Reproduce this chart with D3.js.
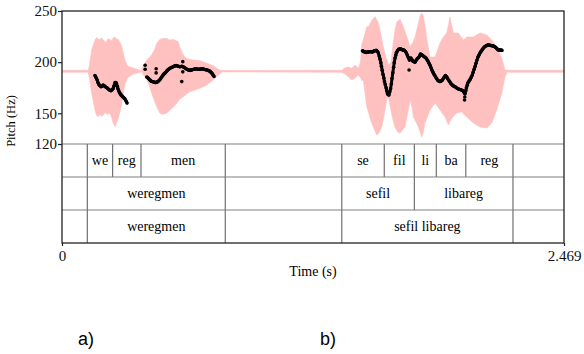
<!DOCTYPE html>
<html>
<head>
<meta charset="utf-8">
<script src="https://cdn.jsdelivr.net/npm/d3@7"></script>
<style>
  body { margin: 0; background: #fff; }
  svg { display: block; }
</style>
</head>
<body>
<svg id="chart" width="584" height="354"></svg>
<script>
// ---- data ----
const duration = 2.469;
const yTicks = [120, 150, 200, 250];
const xTicks = [0, 2.469];
const xTickLabels = ['0', '2.469'];

// waveform envelope (drawn in pitch units, centred on ~191 Hz)
const waveTop = [
  [0, 192.1], [0.128, 192.1], [0.134, 195.8], [0.146, 211.9], [0.162, 221.7], [0.170, 224], [0.179, 222.4],
  [0.187, 222.4], [0.195, 223.5], [0.203, 222], [0.212, 219.5], [0.220, 220.4], [0.228, 223], [0.236, 222],
  [0.244, 221], [0.252, 223.6], [0.261, 224.6], [0.269, 222], [0.277, 222.4], [0.286, 219], [0.294, 215.2],
  [0.302, 208], [0.310, 202.1], [0.318, 198], [0.326, 195.8], [0.351, 194.2], [0.375, 192.6], [0.392, 191.6],
  [0.400, 197.2], [0.417, 202.1], [0.441, 207], [0.455, 212], [0.466, 218.4], [0.482, 222.4], [0.498, 223],
  [0.515, 223.3], [0.531, 221.5], [0.547, 222.4], [0.560, 221], [0.572, 220], [0.580, 214], [0.589, 210.2],
  [0.600, 206], [0.613, 203.7], [0.630, 202.5], [0.646, 202.1], [0.663, 201.8], [0.679, 201.4], [0.712, 199],
  [0.744, 196.4], [0.769, 193], [0.786, 191.8],
  [1.376, 192.1], [1.392, 194.6], [1.408, 195.3], [1.425, 194], [1.441, 197.2], [1.457, 194], [1.468, 200],
  [1.474, 216.8], [1.482, 221.7], [1.499, 234.7], [1.507, 234.7], [1.525, 241.2], [1.540, 244.4], [1.554, 239.2],
  [1.564, 231.4], [1.580, 215.1], [1.594, 204.1], [1.606, 197.2], [1.618, 200.2], [1.628, 216.8], [1.638, 231.4],
  [1.646, 239.2], [1.663, 241.9], [1.679, 234.7], [1.696, 224.9], [1.712, 214.8], [1.727, 219.7], [1.736, 224.6],
  [1.751, 236.3], [1.761, 245.1], [1.769, 248], [1.776, 246.1], [1.785, 236.3], [1.795, 221.7], [1.810, 205],
  [1.835, 205], [1.859, 218.7], [1.879, 225.6], [1.892, 228.5], [1.901, 236.3], [1.908, 244.1], [1.916, 236.3],
  [1.925, 228.5], [1.949, 228.5], [1.974, 221.7], [1.991, 224.6], [2.023, 224.6], [2.056, 228.5], [2.089, 226.5],
  [2.114, 221.7], [2.138, 214.8], [2.163, 204.1], [2.179, 192.3], [2.189, 192.1], [2.469, 192.1]
];
const waveBottom = [
  [0, 190.2], [0.128, 190.2], [0.134, 185.5], [0.146, 169.6], [0.162, 153.2], [0.170, 148], [0.179, 146.7],
  [0.187, 149], [0.195, 147], [0.203, 148.3], [0.212, 151], [0.220, 149], [0.236, 150], [0.244, 146],
  [0.252, 140.2], [0.261, 136.9], [0.269, 141], [0.277, 145.1], [0.286, 152], [0.294, 159.8], [0.302, 170],
  [0.310, 179.3], [0.326, 185.5], [0.351, 188.4], [0.375, 189.7], [0.392, 190.6],
  [0.400, 187.4], [0.417, 182.6], [0.430, 177], [0.441, 169.6], [0.455, 162], [0.466, 156.5], [0.482, 150],
  [0.498, 149], [0.515, 150], [0.531, 153.2], [0.547, 156], [0.564, 159.8], [0.580, 164], [0.597, 166.2],
  [0.613, 169], [0.630, 171.1], [0.663, 173.5], [0.679, 174.4], [0.712, 177.7], [0.744, 182.6], [0.769, 187.4],
  [0.786, 190.4],
  [1.376, 190.2], [1.392, 188.4], [1.408, 185.8], [1.425, 182.6], [1.441, 184.2], [1.457, 187.4], [1.468, 185],
  [1.474, 182], [1.482, 182.6], [1.499, 156.5], [1.523, 140.5], [1.548, 128.8], [1.559, 130.8], [1.573, 136.9],
  [1.589, 153.2], [1.599, 165.9], [1.608, 163], [1.618, 153.2], [1.628, 143.5], [1.638, 136.6], [1.650, 131.7],
  [1.663, 130.8], [1.679, 134.7], [1.687, 136.6], [1.703, 153.2], [1.712, 163], [1.722, 155.2], [1.728, 146.4],
  [1.741, 141.5], [1.753, 136.6], [1.761, 131.7], [1.769, 126.8], [1.776, 130.8], [1.785, 140.5], [1.810, 153.2],
  [1.835, 160.1], [1.859, 153.2], [1.884, 146.4], [1.900, 138.6], [1.917, 145.4], [1.941, 150.3], [1.966, 151.3],
  [1.991, 146.4], [2.023, 140.5], [2.056, 136.6], [2.089, 135.6], [2.114, 140.5], [2.138, 153.2], [2.163, 169.9],
  [2.179, 185.5], [2.189, 190.2], [2.469, 190.2]
];

// pitch track (s, Hz)
const pitchWe = [
  [0.162, 187], [0.167, 185], [0.172, 183], [0.177, 180], [0.182, 178], [0.187, 177], [0.192, 176],
  [0.197, 176.5], [0.202, 177.5], [0.207, 177], [0.211, 176.5], [0.216, 175.5], [0.221, 175], [0.226, 174],
  [0.231, 173], [0.236, 172.5], [0.241, 172], [0.246, 173], [0.251, 174], [0.256, 177], [0.261, 180],
  [0.265, 180], [0.268, 179], [0.272, 176.5], [0.275, 174], [0.279, 172], [0.283, 170], [0.287, 169],
  [0.290, 168], [0.295, 167], [0.300, 166], [0.305, 165], [0.310, 164], [0.315, 162], [0.320, 160]
];
const pitchMen = [
  [0.417, 185.5], [0.421, 185], [0.426, 184], [0.430, 183], [0.433, 182.5], [0.438, 181.5], [0.443, 181],
  [0.448, 180.8], [0.453, 180.5], [0.457, 180.2], [0.462, 180], [0.467, 180.5], [0.472, 181], [0.477, 182],
  [0.482, 183], [0.487, 184.5], [0.492, 186], [0.497, 187.3], [0.502, 188.5], [0.507, 189.5], [0.512, 190.5],
  [0.516, 191.5], [0.521, 192.5], [0.526, 193.3], [0.531, 194], [0.536, 194.5], [0.541, 195], [0.546, 195.5],
  [0.551, 196], [0.556, 196.4], [0.561, 196.8], [0.566, 196.4], [0.571, 196], [0.576, 195.8], [0.580, 195.5],
  [0.585, 195.8], [0.590, 196], [0.595, 195.5], [0.600, 195], [0.605, 194.3], [0.610, 193.5], [0.615, 193],
  [0.620, 192.5], [0.625, 192.2], [0.630, 192], [0.635, 192.2], [0.639, 192.5], [0.644, 192.8], [0.649, 193],
  [0.654, 193.3], [0.659, 193.5], [0.664, 193.3], [0.669, 193], [0.674, 193], [0.679, 193], [0.684, 193.3],
  [0.689, 193.5], [0.694, 193.3], [0.698, 193], [0.703, 192.8], [0.708, 192.5], [0.713, 192.3], [0.718, 192],
  [0.723, 191.5], [0.728, 191], [0.733, 190], [0.738, 189], [0.743, 187.5], [0.748, 186]
];
const pitchSefil = [
  [1.478, 211], [1.483, 210.5], [1.488, 210], [1.493, 209.8], [1.497, 209.5], [1.502, 209.8], [1.507, 210],
  [1.512, 210.1], [1.517, 210.2], [1.522, 210.1], [1.527, 210], [1.532, 210.5], [1.536, 211], [1.541, 211.3],
  [1.546, 211.5], [1.551, 210.5], [1.556, 209], [1.560, 206], [1.564, 203], [1.568, 199.5], [1.571, 196],
  [1.575, 192], [1.579, 188], [1.583, 184.5], [1.586, 181], [1.590, 178], [1.594, 175], [1.597, 172],
  [1.601, 169], [1.605, 168.2], [1.608, 168], [1.612, 171], [1.616, 174], [1.620, 179], [1.623, 184],
  [1.627, 189.5], [1.631, 195], [1.634, 199.5], [1.638, 204], [1.642, 207], [1.645, 209.5], [1.650, 211],
  [1.655, 212.5], [1.660, 212.8], [1.665, 213], [1.670, 212.5], [1.675, 212], [1.680, 211.8], [1.684, 211.5],
  [1.689, 210.3], [1.694, 209], [1.698, 207], [1.702, 205], [1.706, 203.5], [1.709, 202], [1.713, 203],
  [1.716, 204], [1.721, 202.5], [1.726, 201], [1.731, 200.5], [1.736, 200], [1.741, 201.5], [1.746, 203],
  [1.751, 204], [1.756, 205], [1.760, 206.5], [1.763, 208], [1.767, 207.5], [1.771, 207], [1.776, 206.2],
  [1.780, 205.5], [1.785, 204.8], [1.790, 204], [1.795, 202.5], [1.800, 201], [1.805, 199], [1.810, 197],
  [1.815, 194.5], [1.820, 192], [1.825, 190], [1.830, 188], [1.835, 186.5], [1.839, 185], [1.844, 183.5],
  [1.849, 182], [1.854, 181.5], [1.859, 181], [1.864, 181.5], [1.869, 182], [1.874, 183.5], [1.879, 185],
  [1.883, 186], [1.886, 187], [1.890, 186], [1.894, 185], [1.898, 183.5], [1.903, 182], [1.908, 180.5],
  [1.913, 179], [1.918, 178], [1.923, 177], [1.928, 176.5], [1.933, 176], [1.938, 175.2], [1.943, 174.5],
  [1.948, 174], [1.952, 173.5], [1.957, 173.2], [1.962, 173], [1.967, 172.5], [1.972, 172], [1.977, 170.5],
  [1.982, 169], [1.986, 172], [1.989, 175], [1.993, 177.5], [1.997, 180], [2.002, 181.5], [2.007, 183],
  [2.012, 185], [2.017, 187], [2.022, 190], [2.027, 193], [2.032, 196], [2.036, 199], [2.041, 202],
  [2.046, 205], [2.051, 207], [2.056, 209], [2.061, 210.5], [2.066, 212], [2.071, 213.3], [2.076, 214.5],
  [2.081, 215.3], [2.086, 216], [2.091, 216.4], [2.095, 216.7], [2.100, 216.6], [2.105, 216.5], [2.110, 216.2],
  [2.115, 216], [2.120, 215.8], [2.125, 215.5], [2.130, 214.8], [2.135, 214], [2.140, 213], [2.145, 212],
  [2.150, 212], [2.154, 212], [2.159, 211.8], [2.164, 211.5]
];
const pitchStray = [
  [0.409, 197], [0.409, 193], [0.463, 193.5], [0.463, 189.5], [0.594, 200.5], [0.594, 190.5], [0.589, 181],
  [1.707, 192.3], [1.980, 163], [1.981, 166]
];

// annotation tiers
const syllables = ['we', 'reg', 'men', 'se', 'fil', 'li', 'ba', 'reg'];
const syllableStart = [0.1245, 0.249, 0.3886, 1.376, 1.585, 1.733, 1.841, 1.986];
const syllableEnd = [0.249, 0.3886, 0.803, 1.585, 1.733, 1.841, 1.986, 2.218];
const words = ['weregmen', 'sefil', 'libareg'];
const wordStart = [0.1245, 1.376, 1.733];
const wordEnd = [0.803, 1.733, 2.218];
const phrases = ['weregmen', 'sefil libareg'];
const phraseStart = [0.1245, 1.376];
const phraseEnd = [0.803, 2.218];

const panelLabels = ['a)', 'b)'];

// ---- layout ----
const margin = { left: 62, top: 11 };
const plotW = 502;
const pitchH = 133;
const rowH = 33;
const tierCount = 3;
const serif = '"Liberation Serif", "Times New Roman", serif';

const svg = d3.select('#chart');
const g = svg.append('g').attr('transform', `translate(${margin.left},${margin.top})`);

const x = d3.scaleLinear().domain([0, duration]).range([0, plotW]);
const y = d3.scaleLinear().domain([120, 250]).range([pitchH, 0]);
const bottom = pitchH + rowH * tierCount;

// waveform
const line = d3.line().x(d => x(d[0])).y(d => y(d[1]));
g.append('path')
  .attr('class', 'wave')
  .attr('d', line(waveTop.concat(waveBottom.slice().reverse())) + 'Z')
  .style('fill', '#ffc0c0')
  .style('stroke', '#ffc0c0')
  .style('stroke-width', 0.6);

// pitch track
const pitchG = g.append('g').attr('class', 'pitch');
[pitchWe, pitchMen, pitchSefil].forEach(seg => {
  pitchG.append('path')
    .attr('d', line(seg))
    .style('fill', 'none')
    .style('stroke', '#000')
    .style('stroke-width', 3)
    .style('stroke-linejoin', 'round');
});
pitchG.selectAll('circle')
  .data(pitchWe.concat(pitchMen, pitchSefil, pitchStray))
  .enter().append('circle')
  .attr('cx', d => x(d[0]))
  .attr('cy', d => y(d[1]))
  .attr('r', 1.8)
  .style('fill', '#000');

// tiers
const tiers = [
  { labels: syllables, start: syllableStart, end: syllableEnd },
  { labels: words, start: wordStart, end: wordEnd },
  { labels: phrases, start: phraseStart, end: phraseEnd },
];
const tierG = g.append('g').attr('class', 'tiers');
tiers.forEach((tier, i) => {
  const top = pitchH + i * rowH;
  tierG.append('line')
    .attr('x1', 0).attr('x2', plotW)
    .attr('y1', top).attr('y2', top)
    .style('stroke', '#808080').style('stroke-width', 1.2);
  const bounds = Array.from(new Set(tier.start.concat(tier.end)));
  tierG.selectAll(null)
    .data(bounds)
    .enter().append('line')
    .attr('x1', d => x(d)).attr('x2', d => x(d))
    .attr('y1', top).attr('y2', top + rowH)
    .style('stroke', '#707070').style('stroke-width', 1.2);
  tierG.selectAll(null)
    .data(tier.labels)
    .enter().append('text')
    .attr('x', (d, j) => x((tier.start[j] + tier.end[j]) / 2))
    .attr('y', top + rowH / 2)
    .attr('dy', '0.35em')
    .attr('text-anchor', 'middle')
    .style('font-family', serif)
    .style('font-size', '14px')
    .text(d => d);
});

// frame
g.append('rect')
  .attr('x', 0).attr('y', 0)
  .attr('width', plotW).attr('height', bottom)
  .style('fill', 'none')
  .style('stroke', '#222')
  .style('stroke-width', 1.3);

// axes
const yAxis = g.append('g')
  .call(d3.axisLeft(y).tickValues(yTicks).tickSize(4).tickPadding(1));
yAxis.select('.domain').remove();
yAxis.selectAll('line').style('stroke', '#222').style('stroke-width', 1.2);
yAxis.selectAll('text').style('font-family', serif).style('font-size', '15px').style('fill', '#111');

const xAxis = g.append('g')
  .attr('transform', `translate(0,${bottom})`)
  .call(d3.axisBottom(x).tickValues(xTicks).tickSize(3).tickPadding(4)
    .tickFormat((d, i) => xTickLabels[i]));
xAxis.select('.domain').remove();
xAxis.selectAll('line').style('stroke', '#222').style('stroke-width', 1.2);
xAxis.selectAll('text').style('font-family', serif).style('font-size', '15px').style('fill', '#111');

// axis titles
svg.append('text')
  .attr('x', margin.left + plotW / 2)
  .attr('y', 276)
  .attr('text-anchor', 'middle')
  .style('font-family', serif)
  .style('font-size', '14px')
  .text('Time (s)');

svg.append('text')
  .attr('transform', 'translate(15,121) rotate(-90)')
  .attr('text-anchor', 'middle')
  .style('font-family', serif)
  .style('font-size', '12.5px')
  .text('Pitch (Hz)');

// panel labels
svg.selectAll('.panel')
  .data(panelLabels)
  .enter().append('text')
  .attr('class', 'panel')
  .attr('x', (d, i) => [86, 328][i])
  .attr('y', 345)
  .attr('text-anchor', 'middle')
  .style('font-family', '"Liberation Sans", Arial, sans-serif')
  .style('font-size', '18px')
  .text(d => d);
</script>
</body>
</html>
